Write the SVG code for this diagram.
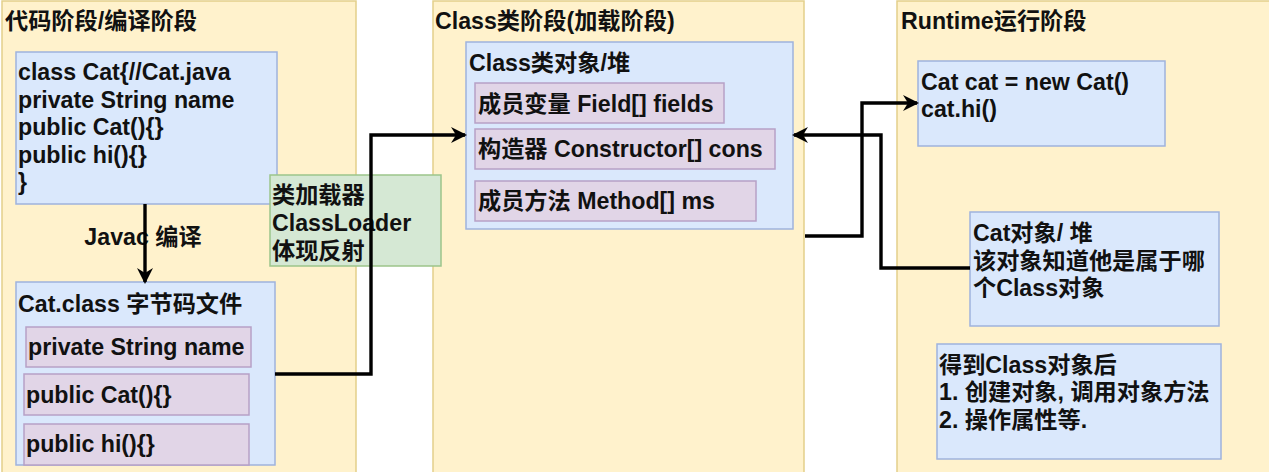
<svg xmlns="http://www.w3.org/2000/svg" width="1269" height="472" viewBox="0 0 1269 472">
<style>
text{font-family:"Liberation Sans","Noto Sans CJK SC",sans-serif;font-weight:bold;font-size:23.2px;fill:#111}
.panel{fill:#fff2cc;stroke:#e3cf8a;stroke-width:1.5}
.blue{fill:#dae8fc;stroke:#9fb3dd;stroke-width:1.5}
.pink{fill:#e1d5e7;stroke:#b7a0c6;stroke-width:1.5}
.green{fill:#d5e8d4;stroke:#9cc58a;stroke-width:1.5}
.conn{fill:none;stroke:#000;stroke-width:3.4;marker-end:url(#arr)}
</style>
<defs>
<marker id="arr" viewBox="0 0 16 16" refX="14" refY="8" markerWidth="16" markerHeight="16" markerUnits="userSpaceOnUse" orient="auto">
<path d="M0,0 L16,8 L0,16 L5,8 z" fill="#000"/>
</marker>
</defs>
<rect width="1269" height="472" fill="#ffffff"/>
<g id="panel-code">
<rect class="panel" x="2" y="1" width="354" height="480"/>
<text x="5" y="29">代码阶段/编译阶段</text>
</g>
<g id="panel-class">
<rect class="panel" x="433" y="1" width="371" height="480"/>
<text x="435" y="29">Class类阶段(加载阶段)</text>
</g>
<g id="panel-runtime">
<rect class="panel" x="897" y="1" width="380" height="480"/>
<text x="901" y="29">Runtime运行阶段</text>
</g>
<g id="cat-java">
<rect class="blue" x="16" y="52" width="261" height="152"/>
<text x="18" y="80">class Cat{//Cat.java</text>
<text x="18" y="107.5">private String name</text>
<text x="18" y="135">public Cat(){}</text>
<text x="18" y="162.5">public hi(){}</text>
<text x="18" y="190">}</text>
</g>
<g id="cat-class">
<rect class="blue" x="16" y="282" width="259" height="183"/>
<text x="18" y="312">Cat.class 字节码文件</text>
</g>
<g id="field-private">
<rect class="pink" x="26" y="327" width="225" height="40"/>
<text x="28" y="355">private String name</text>
</g>
<g id="field-ctor">
<rect class="pink" x="24" y="374" width="225" height="41"/>
<text x="26" y="403">public Cat(){}</text>
</g>
<g id="field-hi">
<rect class="pink" x="24" y="424" width="225" height="41"/>
<text x="26" y="452">public hi(){}</text>
</g>
<g id="classloader">
<rect class="green" x="270" y="175" width="171" height="91"/>
<text x="272" y="203">类加载器</text>
<text x="272" y="231">ClassLoader</text>
<text x="272" y="259">体现反射</text>
</g>
<g id="class-object">
<rect class="blue" x="466" y="42" width="327" height="187"/>
<text x="469" y="71">Class类对象/堆</text>
</g>
<g id="cls-fields">
<rect class="pink" x="475" y="83" width="249" height="40"/>
<text x="478" y="112">成员变量 Field[] fields</text>
</g>
<g id="cls-cons">
<rect class="pink" x="475" y="129" width="300" height="40"/>
<text x="478" y="157">构造器 Constructor[] cons</text>
</g>
<g id="cls-methods">
<rect class="pink" x="475" y="181" width="281" height="40"/>
<text x="478" y="209">成员方法 Method[] ms</text>
</g>
<g id="runtime-code">
<rect class="blue" x="918" y="61" width="247" height="85"/>
<text x="921" y="90">Cat cat = new Cat()</text>
<text x="921" y="117">cat.hi()</text>
</g>
<g id="cat-object">
<rect class="blue" x="970" y="212" width="249" height="114"/>
<text x="973" y="241">Cat对象/ 堆</text>
<text x="973" y="269">该对象知道他是属于哪</text>
<text x="973" y="296">个Class对象</text>
</g>
<g id="after-class">
<rect class="blue" x="937" y="344" width="284" height="115"/>
<text x="939" y="373">得到Class对象后</text>
<text x="939" y="400">1. 创建对象, 调用对象方法</text>
<text x="939" y="428">2. 操作属性等.</text>
</g>
<g id="javac-label">
<text x="143" y="245" text-anchor="middle">Javac 编译</text>
</g>
<g id="connectors">
<path class="conn" d="M145,204 V282"/>
<path class="conn" d="M275,374 H371 V135 H465"/>
<path class="conn" d="M805,236 H862 V103 H917"/>
<path class="conn" d="M970,268 H881 V135 H794"/>
</g>
</svg>
